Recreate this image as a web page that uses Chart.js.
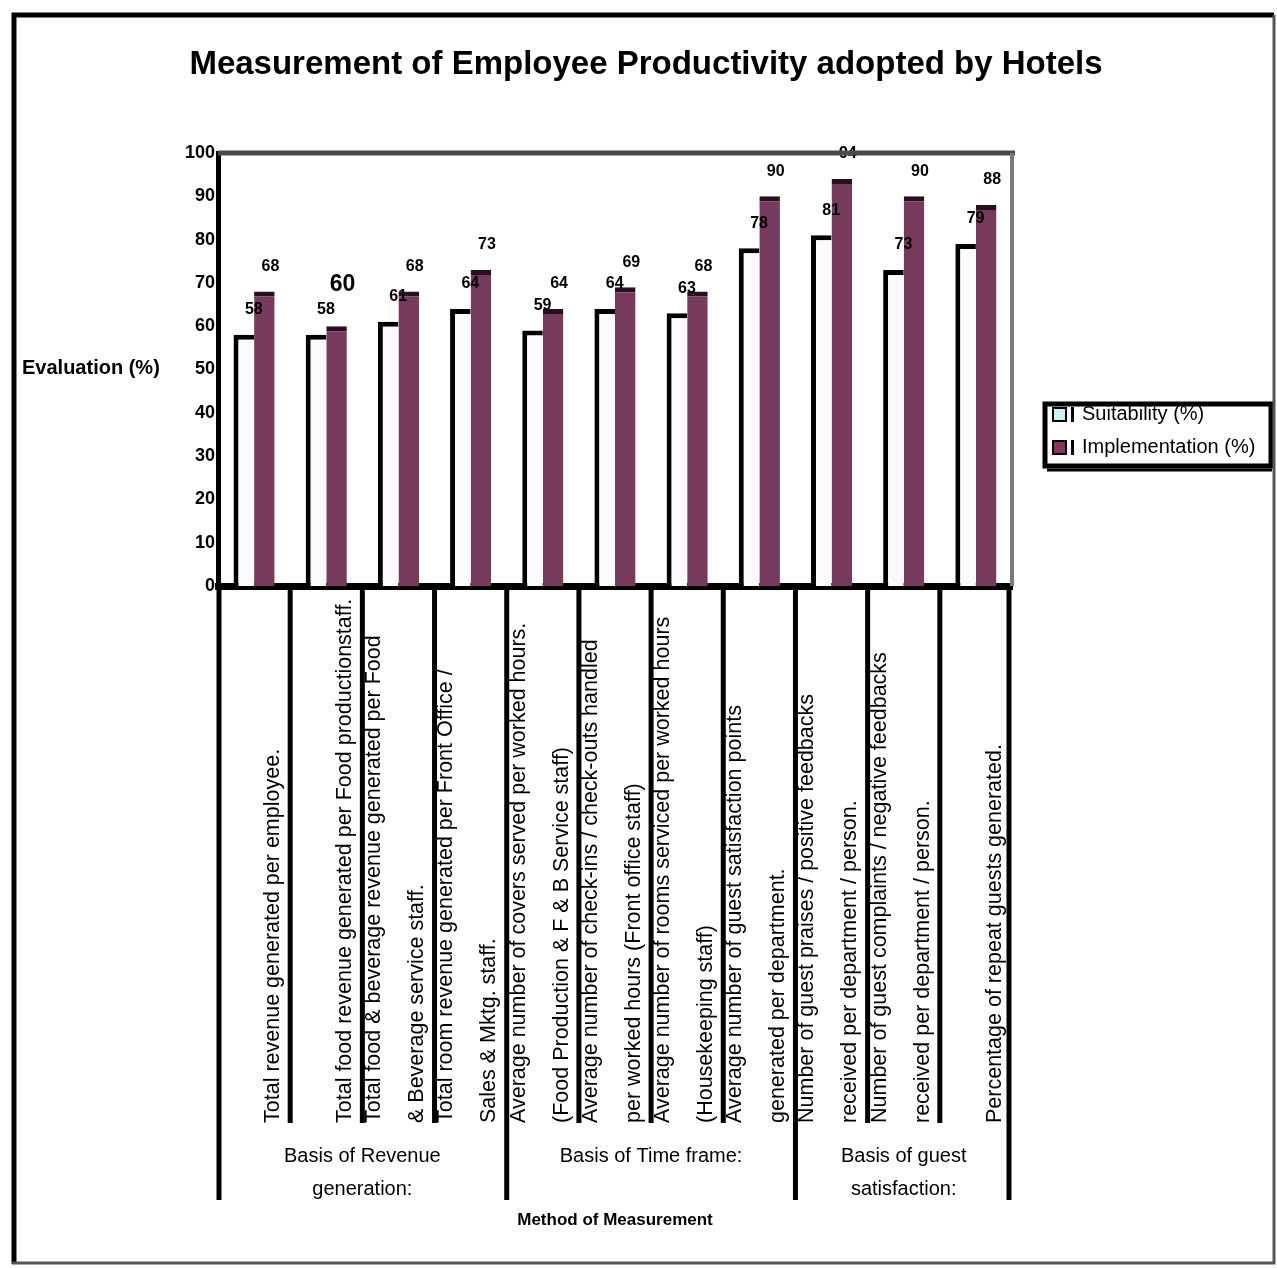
<!DOCTYPE html>
<html>
<head>
<meta charset="utf-8">
<title>Measurement of Employee Productivity adopted by Hotels</title>
<script src="https://cdn.jsdelivr.net/npm/chart.js@4.4.0/dist/chart.umd.min.js"></script>
<style>
  html, body { margin: 0; padding: 0; background: #fff; }
  #wrap { width: 1277px; height: 1268px; position: relative; }
</style>
</head>
<body>
<div id="wrap"><canvas id="chart"></canvas></div>
<script>
// Category labels, two wrapped lines each (first line empty when the label is short)
const categories = [
    ['', 'Total revenue generated per employee.'],
    ['', 'Total food revenue generated per Food productionstaff.'],
    ['Total food & beverage revenue generated per Food', '& Beverage service staff.'],
    ['Total room revenue generated per Front Office /', 'Sales & Mktg. staff.'],
    ['Average number of covers served per worked hours.', '(Food Production & F & B Service staff)'],
    ['Average number of check-ins / check-outs handled', 'per worked hours (Front office staff)'],
    ['Average number of rooms serviced per worked hours', '(Housekeeping staff)'],
    ['Average number of guest satisfaction points', 'generated per department.'],
    ['Number of guest praises / positive feedbacks', 'received per department / person.'],
    ['Number of guest complaints / negative feedbacks', 'received per department / person.'],
    ['', 'Percentage of repeat guests generated.']
];

const suitability = [58, 58, 61, 64, 59, 64, 63, 78, 81, 73, 79];
const implementation = [68, 60, 68, 73, 64, 69, 68, 90, 94, 90, 88];

// Groups of categories (first and last index)
const groupNames = [
    ['Basis of Revenue', 'generation:'],
    ['Basis of Time frame:'],
    ['Basis of guest', 'satisfaction:']
];
const groupStart = [0, 4, 8];
const groupEnd = [3, 7, 10];

const yMin = 0;
const yMax = 100;
const yStep = 10;

const FONT = "'Liberation Sans', Arial, Helvetica, sans-serif";

const decorPlugin = {
    id: 'decor',
    beforeDraw(chart) {
        const ctx = chart.ctx;
        ctx.save();
        ctx.fillStyle = '#fff';
        ctx.fillRect(0, 0, chart.width, chart.height);
        ctx.restore();
    },
    afterDatasetsDraw(chart) {
        // value labels above bars
        const ctx = chart.ctx;
        ctx.save();
        ctx.fillStyle = '#000';
        ctx.textAlign = 'center';
        ctx.textBaseline = 'middle';
        chart.data.datasets.forEach((ds, di) => {
            const meta = chart.getDatasetMeta(di);
            meta.data.forEach((bar, i) => {
                const big = di === 1 && i === 1;
                ctx.font = 'bold ' + (big ? 23 : 16) + 'px ' + FONT;
                const dx = di === 0 ? 10 : 6;
                const dy = big ? 42 : 25;
                ctx.fillText(String(ds.data[i]), bar.x + dx, bar.y - dy);
            });
        });
        ctx.restore();
    },
    afterDraw(chart) {
        const ctx = chart.ctx;
        const area = chart.chartArea;
        const x = chart.scales.x;
        const n = categories.length;
        const catW = (x.right - x.left) / n;
        const edge = i => x.getPixelForValue(0) - catW / 2 + i * catW;

        ctx.save();

        // title
        ctx.fillStyle = '#000';
        ctx.textAlign = 'center';
        ctx.textBaseline = 'middle';
        ctx.font = 'bold 33px ' + FONT;
        ctx.fillText('Measurement of Employee Productivity adopted by Hotels', 646, 65);

        // plot frame top and right
        ctx.lineCap = 'butt';
        ctx.strokeStyle = '#4a4a4a';
        ctx.lineWidth = 5;
        ctx.beginPath();
        ctx.moveTo(area.left, area.top);
        ctx.lineTo(area.right + 3, area.top);
        ctx.stroke();
        ctx.strokeStyle = '#7a7a7a';
        ctx.lineWidth = 4;
        ctx.beginPath();
        ctx.moveTo(area.right, area.top);
        ctx.lineTo(area.right, area.bottom);
        ctx.stroke();

        // category separators below the axis
        const groupEdges = [groupStart[0]].concat(groupEnd.map(e => e + 1));
        ctx.strokeStyle = '#000';
        ctx.lineWidth = 5;
        for (let i = 0; i <= n; i++) {
            const px = Math.min(Math.max(edge(i), area.left + 1), area.right - 3);
            const long = groupEdges.includes(i);
            ctx.beginPath();
            ctx.moveTo(px, area.bottom + 3);
            ctx.lineTo(px, long ? 1200 : 1123);
            ctx.stroke();
        }

        // rotated category labels
        ctx.font = '21.5px ' + FONT;
        ctx.textAlign = 'left';
        categories.forEach((lines, i) => {
            const left = edge(i);
            lines.forEach((line, li) => {
                if (!line) return;
                ctx.save();
                ctx.translate(left + 12 + li * 43, 1123);
                ctx.rotate(-Math.PI / 2);
                ctx.fillText(line, 0, 0);
                ctx.restore();
            });
        });

        // group labels
        ctx.font = '20px ' + FONT;
        ctx.textAlign = 'center';
        groupNames.forEach((lines, g) => {
            const cx = (edge(groupStart[g]) + edge(groupEnd[g] + 1)) / 2;
            lines.forEach((line, li) => {
                ctx.fillText(line, cx, 1156 + li * 33);
            });
        });

        // axis titles
        ctx.font = 'bold 17px ' + FONT;
        ctx.fillText('Method of Measurement', (area.left + area.right) / 2, 1220);
        ctx.font = 'bold 20px ' + FONT;
        ctx.textAlign = 'left';
        ctx.fillText('Evaluation (%)', 22, 368);

        // legend
        const items = [
            { text: 'Suitability (%)', fill: '#c9f3f3', y: 414 },
            { text: 'Implementation (%)', fill: '#8a3560', y: 447 }
        ];
        ctx.font = '20px ' + FONT;
        items.forEach(it => {
            ctx.fillStyle = it.fill;
            ctx.fillRect(1053, it.y - 6, 13, 13);
            ctx.strokeStyle = '#000';
            ctx.lineWidth = 2;
            ctx.strokeRect(1053, it.y - 6, 13, 13);
            ctx.fillStyle = '#000';
            ctx.fillRect(1071, it.y - 7, 3, 15);
            ctx.fillText(it.text, 1082, it.y);
        });
        ctx.strokeStyle = '#000';
        ctx.lineWidth = 5;
        ctx.strokeRect(1045, 404, 226, 62);
        ctx.lineWidth = 3;
        ctx.beginPath();
        ctx.moveTo(1047, 470);
        ctx.lineTo(1272, 470);
        ctx.stroke();

        // outer frame
        ctx.strokeStyle = '#000';
        ctx.lineWidth = 5;
        ctx.beginPath();
        ctx.moveTo(14, 1264);
        ctx.lineTo(14, 15);
        ctx.lineTo(1274, 15);
        ctx.stroke();
        ctx.strokeStyle = '#555';
        ctx.lineWidth = 3;
        ctx.beginPath();
        ctx.moveTo(1274, 15);
        ctx.lineTo(1274, 1263);
        ctx.lineTo(12, 1263);
        ctx.stroke();

        ctx.restore();
    }
};

document.addEventListener('DOMContentLoaded', function() {
    const ctx = document.getElementById('chart');

    new Chart(ctx, {
        type: 'bar',
        data: {
            labels: categories.map(c => c.join(' ').trim()),
            datasets: [
                {
                    label: 'Suitability (%)',
                    data: suitability,
                    backgroundColor: '#fbfbfe',
                    borderColor: '#000',
                    borderWidth: { left: 5, top: 5, right: 0, bottom: 0 },
                    borderSkipped: false
                },
                {
                    label: 'Implementation (%)',
                    data: implementation,
                    backgroundColor: '#763a5d',
                    borderColor: '#2a0f20',
                    borderWidth: { left: 0, top: 5, right: 0, bottom: 0 },
                    borderSkipped: false
                }
            ]
        },
        options: {
            responsive: true,
            maintainAspectRatio: false,
            animation: false,
            categoryPercentage: 0.57,
            barPercentage: 1.0,
            layout: {
                padding: { left: 158, right: 265, top: 153, bottom: 682 }
            },
            plugins: {
                legend: { display: false },
                tooltip: { enabled: false },
                title: { display: false }
            },
            scales: {
                x: {
                    z: 1,
                    grid: { display: false, drawTicks: false },
                    border: { display: true, color: '#000', width: 7 },
                    ticks: { display: false },
                    afterFit(scale) { scale.height = 0; }
                },
                y: {
                    z: 1,
                    min: yMin,
                    max: yMax,
                    grid: { display: false, drawTicks: false },
                    border: { display: true, color: '#000', width: 5 },
                    ticks: {
                        stepSize: yStep,
                        color: '#000',
                        padding: 3,
                        font: { family: FONT, size: 18, weight: 'bold' }
                    },
                    afterFit(scale) { scale.width = 60; }
                }
            }
        },
        plugins: [decorPlugin]
    });
});
</script>
</body>
</html>
